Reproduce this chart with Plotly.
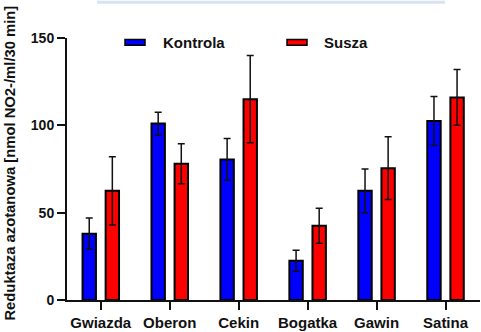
import plotly.graph_objects as go

# Nitrate reductase activity per cultivar, control vs drought
cultivars = ["Gwiazda", "Oberon", "Cekin", "Bogatka", "Gawin", "Satina"]
kontrola = [38, 101, 80.5, 22.5, 62.5, 102.5]
kontrola_err = [9, 6.5, 12, 6, 12.5, 14]
susza = [62.5, 78, 115, 42.5, 75.5, 116]
susza_err = [19.5, 11.5, 25, 10, 18, 16]
y_ticks = [0, 50, 100, 150]

FONT = "Liberation Sans, Arial, sans-serif"
BLUE = "#0000ff"
RED = "#ff0000"
INK = "#111111"

def bar(name, values, errors, color):
    return go.Bar(
        name=name, x=cultivars, y=values,
        marker=dict(color=color, line=dict(color="#000000", width=2)),
        error_y=dict(type="data", array=errors, visible=True,
                     color="#111111", thickness=1.5, width=3.5),
        showlegend=False,
    )

fig = go.Figure([
    bar("Kontrola", kontrola, kontrola_err, BLUE),
    bar("Susza", susza, susza_err, RED),
])

W, H = 481, 332
L, R, T, B = 67, 1, 38, 27
pw, ph = W - L - R, H - T - B

def px_x(p):
    return (p - L) / pw

def px_y(p):
    return 1 - (p - T) / ph

shapes = [
    # pale header strip along the top edge
    dict(type="rect", xref="paper", yref="paper",
         x0=px_x(97), x1=px_x(445), y0=px_y(3), y1=px_y(0),
         fillcolor="#d7e3f0", line=dict(width=0), layer="above"),
]
annotations = []
legend_items = [("Kontrola", BLUE, 125, 161), ("Susza", RED, 287, 322)]
for label, color, sx, tx in legend_items:
    shapes.append(dict(type="rect", xref="paper", yref="paper",
                       x0=px_x(sx), x1=px_x(sx + 20), y0=px_y(45.5), y1=px_y(39.5),
                       fillcolor=color, line=dict(color="#000000", width=1.5)))
    annotations.append(dict(text=label, xref="paper", yref="paper",
                            x=px_x(tx), y=px_y(42.5), xanchor="left", yanchor="middle",
                            showarrow=False,
                            font=dict(family=FONT, size=15, color=INK, weight="bold")))

annotations.append(dict(
    text="Reduktaza azotanowa [nmol NO2-/ml/30 min]",
    xref="paper", yref="paper", x=px_x(10), y=px_y(166),
    xanchor="center", yanchor="middle", textangle=-90, showarrow=False,
    font=dict(family=FONT, size=14.8, color=INK, weight="bold")))

fig.update_layout(
    width=W, height=H,
    margin=dict(l=L, r=R, t=T, b=B, pad=0),
    paper_bgcolor="white", plot_bgcolor="white",
    barmode="group", bargap=0.33, bargroupgap=0.42,
    font=dict(family=FONT, size=14, color=INK),
    shapes=shapes, annotations=annotations,
    xaxis=dict(
        range=[-0.49, 5.5], showline=True, linecolor="#111111", linewidth=2,
        ticks="outside", ticklen=8, tickwidth=2, tickcolor="#111111",
        tickfont=dict(family=FONT, size=15, color=INK, weight="bold"),
        showgrid=False, zeroline=False, fixedrange=True,
    ),
    yaxis=dict(
        range=[0, 150], tickvals=y_ticks, showline=True, linecolor="#111111",
        linewidth=2, ticks="outside", ticklen=8, tickwidth=2, tickcolor="#111111",
        tickfont=dict(family=FONT, size=14, color=INK, weight="bold"),
        showgrid=False, zeroline=False, fixedrange=True,
    ),
)

fig.write_html("out.html", config={"displayModeBar": False})
